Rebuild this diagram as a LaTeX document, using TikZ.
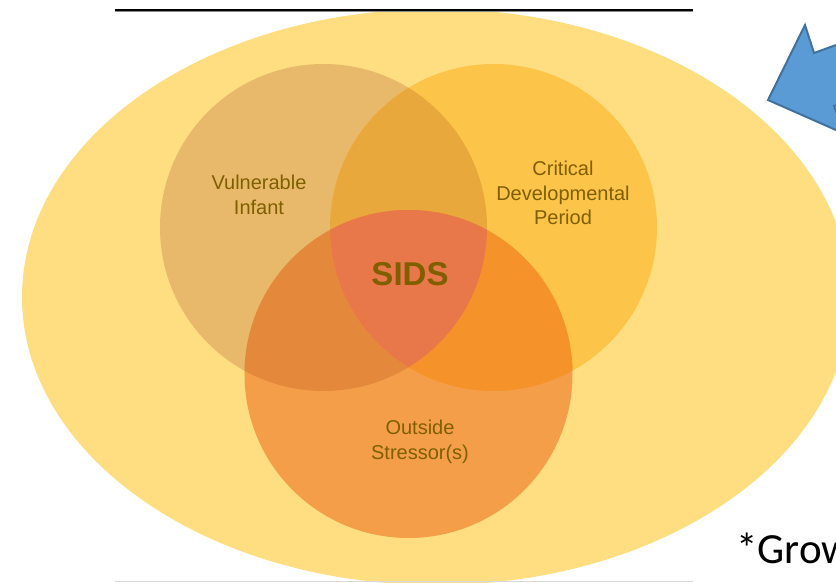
\documentclass[tikz,border=0pt]{standalone}
\usepackage{fontspec}
\setmainfont{Liberation Sans}
\newfontfamily\calibrifont{Carlito}
\definecolor{bigyellow}{HTML}{FEDE80}
\definecolor{vcol}{HTML}{E8B96A}
\definecolor{ccol}{HTML}{FCC448}
\definecolor{ocol}{HTML}{F59E4A}
\definecolor{vccol}{HTML}{E9A83C}
\definecolor{vocol}{HTML}{E4893C}
\definecolor{cocol}{HTML}{F6922A}
\definecolor{vcocol}{HTML}{E8784A}
\definecolor{labelcol}{HTML}{7F5F00}
\definecolor{arrowfill}{HTML}{5B9BD5}
\definecolor{arrowline}{HTML}{41719C}
\begin{document}
\begin{tikzpicture}[x=1pt,y=-1pt,
  lbl/.style={text=labelcol, font=\fontsize{20}{24.7}\selectfont, align=center, inner sep=0pt},
  bigl/.style={text=labelcol, font=\fontsize{33}{36}\selectfont\bfseries, inner sep=0pt},
  note/.style={text=black, font=\calibrifont\fontsize{43}{48}\selectfont, inner sep=0pt}]
\useasboundingbox (0,0) rectangle (836,583);
\def\Vc{(323.5,227.5) circle [radius=163.5]}
\def\Cc{(493.5,227.5) circle [radius=163.5]}
\def\Oc{(408.5,374) circle [radius=164]}
\begin{scope}
  \clip (0,0) rectangle (836,583);
  % outer ellipse
  \fill[bigyellow] (436,297) ellipse [x radius=414, y radius=288];
  % circles
  \fill[vcol] \Vc;
  \fill[ccol] \Cc;
  \fill[ocol] \Oc;
  % pairwise overlaps
  \begin{scope}\clip \Vc; \fill[vccol] \Cc; \end{scope}
  \begin{scope}\clip \Vc; \fill[vocol] \Oc; \end{scope}
  \begin{scope}\clip \Cc; \fill[cocol] \Oc; \end{scope}
  % triple overlap
  \begin{scope}\clip \Vc; \clip \Cc; \fill[vcocol] \Oc; \end{scope}
  % blue block arrow
  \filldraw[fill=arrowfill, draw=arrowline, line width=2pt, line join=miter]
    (768,100) -- (805,25) -- (814,53) -- (908,19) -- (928,72) -- (834,106) -- (845,134) -- cycle;
  % note text
  \node[note, anchor=base west] (grow) at (736,563) {*Grow};
\end{scope}
% rules
\draw[black!45, line width=1pt] (115,11.6) -- (693,11.6);
\draw[black, line width=1.6pt] (115,10) -- (693,10);
\draw[black!15, line width=1.2pt] (115,581.5) -- (693,581.5);
% labels
\node[lbl] (vuln) at (259,195) {Vulnerable\\Infant};
\node[lbl] (crit) at (563,193) {Critical\\Developmental\\Period};
\node[lbl] (outs) at (420,442) {Outside\\Stressor(s)};
\node[bigl] (sids) at (410,274) {SIDS};
\end{tikzpicture}
\end{document}
